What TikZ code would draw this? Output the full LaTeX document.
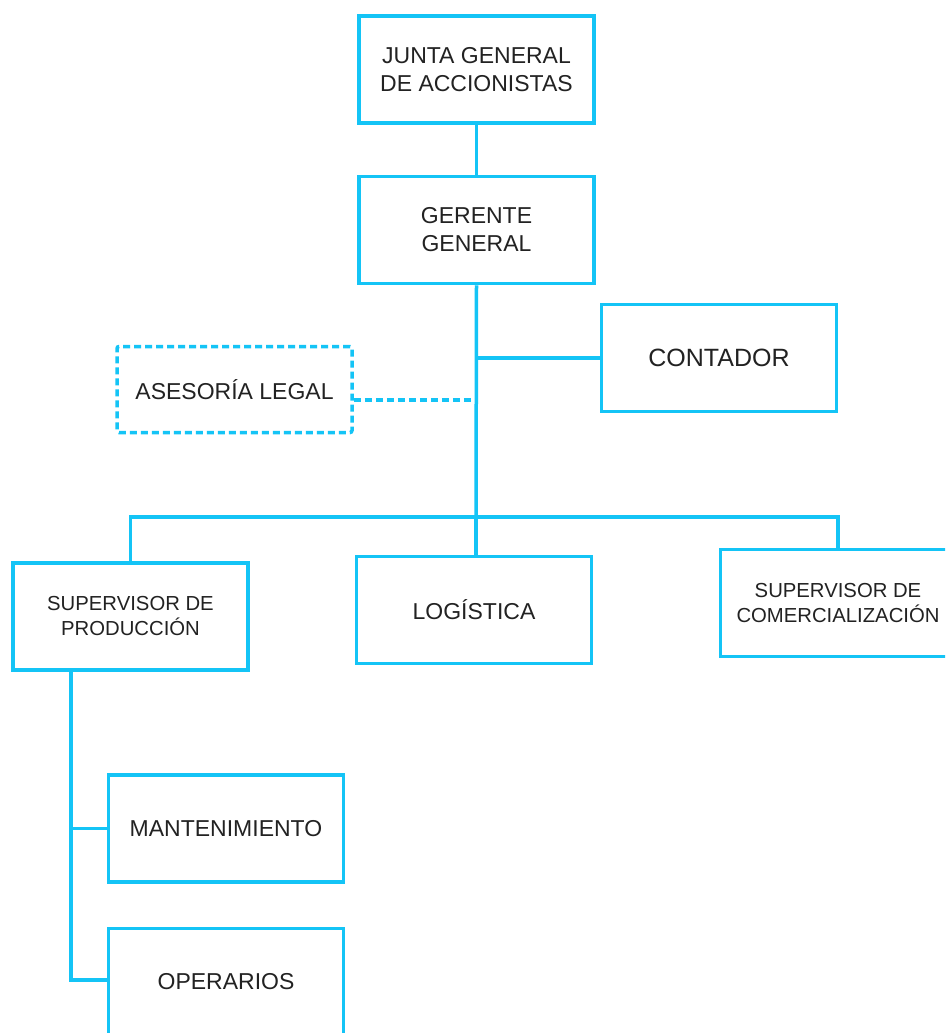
\documentclass[tikz,border=0pt]{standalone}
\usepackage{fontspec}
\setmainfont{Liberation Sans}
\usetikzlibrary{calc}
\definecolor{linecyan}{RGB}{20,196,246}
\definecolor{inkgray}{RGB}{34,34,34}
\begin{document}
\begin{tikzpicture}[x=1pt,y=-1pt,
  orgbox/.style={draw=linecyan, line width=3.5pt, fill=white, text=inkgray,
    align=center, inner sep=0pt, minimum width=235pt, minimum height=107pt,
    font=\fontsize{23}{28}\selectfont},
  smalltext/.style={font=\fontsize{20.3}{25}\selectfont},
  bigtext/.style={font=\fontsize{25}{30}\selectfont},
  dashedbox/.style={orgbox, dash pattern=on 7pt off 4pt, rounded corners=2pt,
    minimum height=86pt},
  link/.style={draw=linecyan, line width=3.5pt},
  dashlink/.style={link, dash pattern=on 7pt off 4pt}]
\clip (0,0) rectangle (945,1033);
\fill[white] (0,0) rectangle (945,1033);

% boxes
\node[orgbox] (junta) at (476.5,69.5) {JUNTA GENERAL\\DE ACCIONISTAS};
\node[orgbox] (gerente) at (476.5,230) {GERENTE\\GENERAL};
\node[orgbox,bigtext] (contador) at (719,358) {CONTADOR};
\node[dashedbox] (asesoria) at (234.5,389.5) {ASESORÍA LEGAL};
\node[orgbox,smalltext] (sp) at (130.5,616.5) {SUPERVISOR DE\\PRODUCCIÓN};
\node[orgbox] (log) at (474,610) {LOGÍSTICA};
\node[orgbox,smalltext] (sc) at (838,603) {SUPERVISOR DE\\COMERCIALIZACIÓN};
\node[orgbox] (mant) at (226,828.5) {MANTENIMIENTO};
\node[orgbox] (oper) at (226,982) {OPERARIOS};

% connector points
\coordinate (bus) at (476,517);
\coordinate (trunk) at (71,980);
\coordinate (legal) at ($(asesoria.east)+(0,10.5)$);

% connectors
\draw[link] (junta.south) -- (gerente.north);
\draw[link] (gerente.south) -- (bus);
\draw[link] (contador.west) -- (contador.west -| gerente.south);
\draw[dashlink] (legal) -- (legal -| gerente.south);
\draw[link] (sp.north) |- (bus) -| (sc.north);
\draw[link] (bus) -- (bus |- log.north);
\draw[link] (sp.south -| trunk) -- (trunk) -- (trunk -| oper.west);
\draw[link] (mant.west) -- (mant.west -| trunk);
\end{tikzpicture}
\end{document}
